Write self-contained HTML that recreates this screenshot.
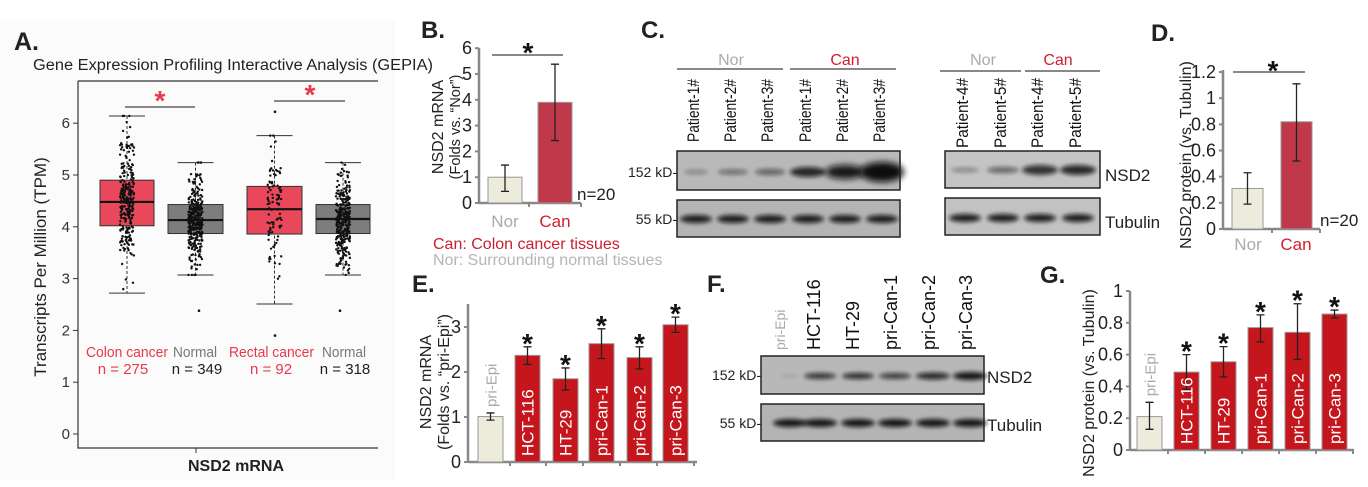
<!DOCTYPE html>
<html><head><meta charset="utf-8"><style>
html,body{margin:0;padding:0;background:#fff;}
svg{display:block;font-family:"Liberation Sans",Arial,sans-serif;}
</style></head><body>
<svg id="s" width="1368" height="487" viewBox="0 0 1368 487" xmlns="http://www.w3.org/2000/svg">
<defs>
<filter id="bl" x="-50%" y="-100%" width="200%" height="300%"><feGaussianBlur stdDeviation="2.2"/></filter>
<filter id="bl2" x="-50%" y="-100%" width="200%" height="300%"><feGaussianBlur stdDeviation="3.2"/></filter>
</defs>
<rect width="1368" height="487" fill="#fff"/>
<rect x="0" y="20" width="395" height="460" fill="#fbfbfb"/>
<!-- Panel A -->
<text x="14" y="50" font-size="25" font-weight="bold" fill="#222">A.</text>
<text x="33" y="70" font-size="15.5" fill="#222" textLength="400" lengthAdjust="spacingAndGlyphs">Gene Expression Profiling Interactive Analysis (GEPIA)</text>
<path d="M78 81 H378 M78 81 V448 H378" fill="none" stroke="#333" stroke-width="1.2"/>
<g id="aTicks" font-size="15" fill="#333" text-anchor="end"></g>
<text transform="translate(46,267) rotate(-90)" font-size="17" text-anchor="middle" fill="#222">Transcripts Per Million (TPM)</text>
<line x1="196" y1="448" x2="196" y2="453" stroke="#333"/>
<text x="236" y="471" font-size="16" font-weight="bold" text-anchor="middle" fill="#222">NSD2 mRNA</text>
<g id="aBox"></g>
<g id="aDots" fill="#111"></g>
<line x1="125" y1="107" x2="195" y2="107" stroke="#888" stroke-width="2"/>
<text x="160" y="110" font-size="28" font-weight="bold" fill="#e8394c" text-anchor="middle">*</text>
<line x1="274" y1="101" x2="345" y2="101" stroke="#888" stroke-width="2"/>
<text x="310" y="104" font-size="28" font-weight="bold" fill="#e8394c" text-anchor="middle">*</text>
<g font-size="15">
<text x="86" y="357" fill="#e8394c" textLength="82" lengthAdjust="spacingAndGlyphs">Colon cancer</text><text x="123" y="374" fill="#e8394c" text-anchor="middle">n = 275</text>
<text x="173" y="357" fill="#777" textLength="44" lengthAdjust="spacingAndGlyphs">Normal</text><text x="197" y="374" fill="#222" text-anchor="middle">n = 349</text>
<text x="229" y="357" fill="#e8394c" textLength="85" lengthAdjust="spacingAndGlyphs">Rectal cancer</text><text x="271" y="374" fill="#e8394c" text-anchor="middle">n = 92</text>
<text x="322" y="357" fill="#777" textLength="44" lengthAdjust="spacingAndGlyphs">Normal</text><text x="345" y="374" fill="#222" text-anchor="middle">n = 318</text>
</g>

<!-- Panel B -->
<text x="421" y="38" font-size="24" font-weight="bold" fill="#222">B.</text>
<g id="bAx"></g>
<text transform="translate(443,127) rotate(-90)" font-size="16" fill="#222" text-anchor="middle">NSD2 mRNA</text>
<text transform="translate(460,127) rotate(-90)" font-size="14.5" fill="#222" text-anchor="middle">(Folds vs. “Nor”)</text>
<text x="433" y="249" font-size="16" fill="#c8202f">Can: Colon cancer tissues</text>
<text x="433" y="265" font-size="16" fill="#b5b5b5">Nor: Surrounding normal tissues</text>

<!-- Panel C -->
<text x="641" y="38" font-size="24" font-weight="bold" fill="#222">C.</text>
<g font-size="16" text-anchor="middle">
<text x="731" y="65" fill="#aaa">Nor</text><text x="845" y="65" fill="#d0202f">Can</text>
<text x="983" y="65" fill="#aaa">Nor</text><text x="1058" y="65" fill="#d0202f">Can</text>
</g>
<path d="M677 69H783 M790 69H896 M940 71H1021 M1025 71H1100" stroke="#888" stroke-width="2"/>
<g id="blots"></g>
<g font-size="14" fill="#222" text-anchor="end">
<text x="677" y="177">152 kD-</text><text x="677" y="224">55 kD-</text>
<text x="761" y="380">152 kD-</text><text x="761" y="428">55 kD-</text>
</g>
<g font-size="17" fill="#222">
<text x="1105" y="181">NSD2</text><text x="1105" y="228">Tubulin</text>
<text x="987" y="383">NSD2</text><text x="987" y="431">Tubulin</text>
</g>

<!-- Panel D -->
<text x="1151" y="41" font-size="24" font-weight="bold" fill="#222">D.</text>
<g id="dAx"></g>
<text transform="translate(1191,155) rotate(-90)" font-size="16" text-anchor="middle" fill="#222">NSD2 protein (vs. Tubulin)</text>

<!-- Panel E -->
<text x="412" y="292" font-size="24" font-weight="bold" fill="#222">E.</text>
<g id="eAx"></g>
<text transform="translate(431,382) rotate(-90)" font-size="16" text-anchor="middle" fill="#222">NSD2 mRNA</text>
<text transform="translate(449,382) rotate(-90)" font-size="16" text-anchor="middle" fill="#222">(Folds vs. “pri-Epi”)</text>

<!-- Panel F -->
<text x="707" y="292" font-size="24" font-weight="bold" fill="#222">F.</text>

<!-- Panel G -->
<text x="1040" y="283" font-size="24" font-weight="bold" fill="#222">G.</text>
<g id="gAx"></g>
<text transform="translate(1094,383) rotate(-90)" font-size="16" text-anchor="middle" fill="#222">NSD2 protein (vs. Tubulin)</text>
</svg>
<script>
var NS="http://www.w3.org/2000/svg";
function el(p,t,a,txt){var e=document.createElementNS(NS,t);for(var k in a)e.setAttribute(k,a[k]);if(txt!==undefined)e.textContent=txt;document.getElementById(p).appendChild(e);return e;}
var seed=7;function rnd(){seed=(seed*16807)%2147483647;return seed/2147483647;}
function gauss(){var u=rnd()||1e-6,v=rnd();return Math.sqrt(-2*Math.log(u))*Math.cos(2*Math.PI*v);}
function ya(v){return 434-51.8*v;}
for(var i=0;i<=6;i++){el('aTicks','text',{x:70,y:ya(i)+5},String(i));el('aTicks','line',{x1:73,x2:78,y1:ya(i),y2:ya(i),stroke:'#333'});}
var boxes=[[100,154,4.02,4.9,4.48,2.72,6.14,'#e9475a',275,4.45,0.62],[168,223,3.87,4.43,4.13,3.07,5.24,'#7d7d7d',349,4.15,0.42],
[247,302,3.86,4.78,4.34,2.51,5.76,'#e9475a',92,4.3,0.7],[316,370,3.87,4.43,4.15,3.07,5.24,'#7d7d7d',318,4.15,0.42]];
boxes.forEach(function(b){var cx=(b[0]+b[1])/2;
el('aBox','line',{x1:cx,x2:cx,y1:ya(b[6]),y2:ya(b[5]),stroke:'#333','stroke-dasharray':'3,2'});
el('aBox','line',{x1:cx-18,x2:cx+18,y1:ya(b[6]),y2:ya(b[6]),stroke:'#333'});
el('aBox','line',{x1:cx-18,x2:cx+18,y1:ya(b[5]),y2:ya(b[5]),stroke:'#333'});
el('aBox','rect',{x:b[0],y:ya(b[3]),width:b[1]-b[0],height:ya(b[2])-ya(b[3]),fill:b[7],stroke:'#333','stroke-width':1});
el('aBox','line',{x1:b[0],x2:b[1],y1:ya(b[4]),y2:ya(b[4]),stroke:'#111','stroke-width':2.2});
for(var j=0;j<b[8];j++){var v=b[9]+gauss()*b[10];v=Math.max(b[5],Math.min(b[6],v));
el('aDots','circle',{cx:cx+(rnd()-0.5)*14,cy:ya(v),r:1.2});}
});
el('aDots','circle',{cx:275,cy:ya(6.22),r:1.3});el('aDots','circle',{cx:275,cy:ya(1.9),r:1.3});
el('aDots','circle',{cx:199,cy:ya(2.38),r:1.3});el('aDots','circle',{cx:340,cy:ya(2.38),r:1.3});
function barChart(g,ax,y0,unit,ticks,tickFmt,xEnd,bars,xticks,ytop){
 el(g,'line',{x1:ax,x2:ax,y1:ytop,y2:y0,stroke:'#888','stroke-width':2.5});
 el(g,'line',{x1:ax,x2:xEnd,y1:y0,y2:y0,stroke:'#888','stroke-width':2.5});
 ticks.forEach(function(t){var y=y0-unit*t;el(g,'line',{x1:ax-4,x2:ax,y1:y,y2:y,stroke:'#888','stroke-width':2});
  el(g,'text',{x:ax-7,y:y+6,'font-size':18,'text-anchor':'end',fill:'#222'},tickFmt(t));});
 xticks.forEach(function(x){el(g,'line',{x1:x,x2:x,y1:y0,y2:y0+4,stroke:'#888','stroke-width':2});});
 bars.forEach(function(b){var yt=y0-unit*b.v;
  el(g,'rect',{x:b.x0,y:yt,width:b.x1-b.x0,height:y0-yt,fill:b.c,stroke:'#999','stroke-width':1});
  var cx=(b.x0+b.x1)/2;
  el(g,'path',{d:'M'+cx+' '+(y0-unit*b.lo)+'V'+(y0-unit*b.hi)+'M'+(cx-4)+' '+(y0-unit*b.lo)+'H'+(cx+4)+'M'+(cx-4)+' '+(y0-unit*b.hi)+'H'+(cx+4),stroke:'#222','stroke-width':1.3,fill:'none'});
  if(b.star)el(g,'text',{x:cx,y:y0-unit*b.hi+6,'font-size':28,'font-weight':'bold','text-anchor':'middle',fill:'#111'},'*');
  if(b.lab)el(g,'text',{transform:'translate('+(cx+6)+','+(b.labIn?y0-6:y0-unit*b.hi-6)+') rotate(-90)','font-size':b.labIn?17:15,fill:b.labIn?'#fff':'#aaa'},b.lab);
 });
}
barChart('bAx',479,203,25.8,[0,1,2,3,4,5,6],String,581,[
 {x0:488,x1:522,v:1,lo:0.45,hi:1.47,c:'#ecebdc'},{x0:538,x1:572,v:3.9,lo:2.42,hi:5.38,c:'#c0394a'}],[529,581],48);
el('bAx','line',{x1:492,x2:563,y1:55,y2:55,stroke:'#888','stroke-width':2});
el('bAx','text',{x:528,y:62,'font-size':28,'font-weight':'bold','text-anchor':'middle',fill:'#111'},'*');
el('bAx','text',{x:577,y:200,'font-size':17,fill:'#222'},'n=20');
el('bAx','text',{x:505,y:227,'font-size':17,'text-anchor':'middle',fill:'#aaa'},'Nor');
el('bAx','text',{x:555,y:227,'font-size':17,'text-anchor':'middle',fill:'#d0202f'},'Can');
barChart('dAx',1223,229,130.8,[0,0.2,0.4,0.6,0.8,1,1.2],function(t){return String(Math.round(t*10)/10);},1320,[
 {x0:1232,x1:1263,v:0.31,lo:0.19,hi:0.43,c:'#ecebdc'},{x0:1281,x1:1312,v:0.82,lo:0.52,hi:1.11,c:'#c0394a'}],[1272,1320],70);
el('dAx','line',{x1:1233,x2:1305,y1:72,y2:72,stroke:'#888','stroke-width':2});
el('dAx','text',{x:1273,y:80,'font-size':28,'font-weight':'bold','text-anchor':'middle',fill:'#111'},'*');
el('dAx','text',{x:1320,y:226,'font-size':17,fill:'#222'},'n=20');
el('dAx','text',{x:1248,y:250,'font-size':17,'text-anchor':'middle',fill:'#aaa'},'Nor');
el('dAx','text',{x:1296,y:250,'font-size':17,'text-anchor':'middle',fill:'#d0202f'},'Can');
var R='#c4161c',names=['pri-Epi','HCT-116','HT-29','pri-Can-1','pri-Can-2','pri-Can-3'];
var ex=[478,515,553,589,627,663],ev=[[1.01,.93,1.09],[2.37,2.17,2.56],[1.85,1.6,2.09],[2.63,2.3,2.96],[2.32,2.07,2.56],[3.05,2.88,3.22]];
barChart('eAx',468,462,45,[0,1,2,3],String,697,ex.map(function(x,i){return {x0:x,x1:x+25,v:ev[i][0],lo:ev[i][1],hi:ev[i][2],c:i?R:'#ecebdc',star:i>0,lab:names[i],labIn:i>0};}),[510,546,583,620,657,694],304);
var gx=[1137,1174,1211,1248,1285,1322],gv=[[.21,.13,.30],[.49,.38,.60],[.555,.46,.65],[.77,.68,.85],[.74,.57,.92],[.855,.83,.88]];
barChart('gAx',1130,450,159,[0,0.2,0.4,0.6,0.8,1],function(t){return String(Math.round(t*10)/10);},1354,gx.map(function(x,i){return {x0:x,x1:x+25,v:gv[i][0],lo:gv[i][1],hi:gv[i][2],c:i?R:'#ecebdc',star:i>0,lab:names[i],labIn:i>0};}),[1168,1205,1242,1279,1316,1353],291);
function blot(x0,x1,y0,y1,bg,bands,by){
 el('blots','rect',{x:x0,y:y0,width:x1-x0,height:y1-y0,fill:bg});
 bands.forEach(function(b){el('blots','ellipse',{cx:b[0],cy:by,rx:b[1],ry:b[2],fill:'#111','fill-opacity':b[3],filter:b[2]>6?'url(#bl2)':'url(#bl)'});});
 el('blots','rect',{x:x0,y:y0,width:x1-x0,height:y1-y0,fill:'none',stroke:'#222','stroke-width':1.5});
}
var cL=[696,733,770,808,845,882];
blot(677,900,151,190,'#b9b9b9',[[696,12,2,.35],[733,15,2.5,.5],[770,15,3,.55],[808,18,5,.85],[845,20,7,.95],[882,22,10,1]],172);
blot(677,900,200,237,'#b4b4b4',cL.map(function(x){return [x,16,4,.9];}),219);
blot(945,1100,151,188,'#c4c4c4',[[965,14,2,.4],[1003,16,3,.55],[1040,18,5,.8],[1078,18,5,.85]],170);
blot(945,1100,198,235,'#c2c2c2',[[965,16,4,.9],[1003,16,4,.9],[1040,16,4,.9],[1078,16,4,.9]],218);
var fL=[790,820,858,895,933,970];
blot(761,984,356,394,'#b8b8b8',[[790,8,1.5,.15],[820,16,3,.8],[858,16,3,.85],[895,16,3,.75],[933,17,3.5,.85],[970,17,4,.95]],376);
blot(761,984,404,441,'#b4b4b4',fL.map(function(x){return [x,17,4,.95];}),423);
var pl=['Patient-1#','Patient-2#','Patient-3#','Patient-1#','Patient-2#','Patient-3#'];
cL.forEach(function(x,i){el('blots','text',{transform:'translate('+(x+3)+',142) rotate(-90)','font-size':17,fill:'#111',textLength:63,lengthAdjust:'spacingAndGlyphs'},pl[i]);});
[965,1003,1040,1078].forEach(function(x,i){el('blots','text',{transform:'translate('+(x+3)+',148) rotate(-90)','font-size':17,fill:'#111',textLength:70,lengthAdjust:'spacingAndGlyphs'},['Patient-4#','Patient-5#','Patient-4#','Patient-5#'][i]);});
[778,813,852,890,928,965].forEach(function(x,i){el('blots','text',{transform:'translate('+(x+7)+',350) rotate(-90)','font-size':i?18:14,fill:i?'#111':'#aaa'},names[i]);});
</script>
</body></html>
